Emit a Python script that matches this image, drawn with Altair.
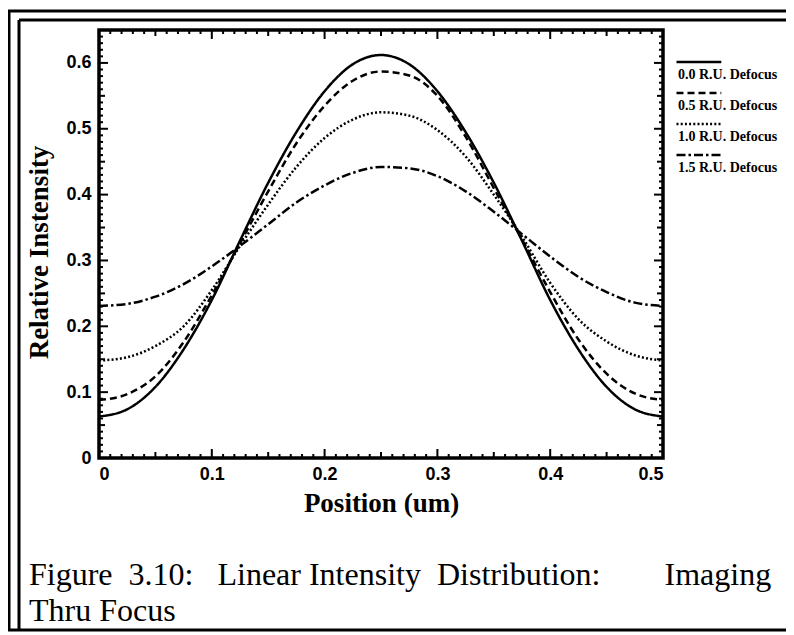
import altair as alt
import pandas as pd

# ---- data ----
POSITION = [0.000, 0.025, 0.050, 0.075, 0.100, 0.125, 0.150, 0.175, 0.200, 0.225,
            0.250, 0.275, 0.300, 0.325, 0.350, 0.375, 0.400, 0.425, 0.450, 0.475, 0.500]
DEFOCUS_00 = [0.063, 0.074, 0.108, 0.165, 0.240, 0.330, 0.418, 0.495, 0.557, 0.598,
              0.612, 0.598, 0.557, 0.495, 0.418, 0.330, 0.240, 0.165, 0.108, 0.074, 0.063]
DEFOCUS_05 = [0.088, 0.097, 0.124, 0.176, 0.247, 0.326, 0.405, 0.478, 0.535, 0.573,
              0.587, 0.581, 0.550, 0.488, 0.410, 0.332, 0.252, 0.180, 0.128, 0.098, 0.088]
DEFOCUS_10 = [0.148, 0.153, 0.170, 0.200, 0.255, 0.322, 0.385, 0.442, 0.486, 0.514,
              0.525, 0.520, 0.498, 0.458, 0.400, 0.336, 0.266, 0.211, 0.177, 0.156, 0.148]
DEFOCUS_15 = [0.231, 0.234, 0.245, 0.264, 0.291, 0.322, 0.355, 0.388, 0.414, 0.433,
              0.442, 0.440, 0.428, 0.405, 0.374, 0.340, 0.306, 0.275, 0.252, 0.236, 0.231]
SERIES = ["0.0 R.U. Defocus", "0.5 R.U. Defocus", "1.0 R.U. Defocus", "1.5 R.U. Defocus"]
X_LABEL_TICKS = [0, 0.1, 0.2, 0.3, 0.4, 0.5]
Y_LABEL_TICKS = [0, 0.1, 0.2, 0.3, 0.4, 0.5, 0.6]
X_MINOR_TICKS = [i / 100 for i in range(0, 51)]
Y_MINOR_TICKS = [i / 100 for i in range(0, 66)]
NB = "\u00a0"
CAPTION = ("Figure" + NB * 2 + "3.10:" + NB * 3 + "Linear" + NB + "Intensity" + NB * 2
           + "Distribution:" + NB * 8 + "Imaging\nThru" + NB + "Focus")

W, H = 564, 428
XMAX, YMAX = 0.5, 0.65
PX_X = W / XMAX
PX_Y = H / YMAX

rows = []
for name, vals in zip(SERIES, [DEFOCUS_00, DEFOCUS_05, DEFOCUS_10, DEFOCUS_15]):
    for p, v in zip(POSITION, vals):
        rows.append({"pos": p, "val": v, "series": name})
df = pd.DataFrame(rows)


def tick_len(v):
    k = round(v * 100)
    if k % 10 == 0:
        return 9
    if k % 5 == 0:
        return 6
    return 4


trows = []
for v in X_MINOR_TICKS:
    L = tick_len(v)
    trows.append({"pos": v, "pos2": v, "val": 0, "val2": L / PX_Y})
    trows.append({"pos": v, "pos2": v, "val": YMAX, "val2": YMAX - L / PX_Y})
for v in Y_MINOR_TICKS:
    L = tick_len(v)
    trows.append({"pos": 0, "pos2": L / PX_X, "val": v, "val2": v})
    trows.append({"pos": XMAX, "pos2": XMAX - L / PX_X, "val": v, "val2": v})
tdf = pd.DataFrame(trows)

xscale = alt.Scale(domain=[0, XMAX], nice=False, zero=False)
yscale = alt.Scale(domain=[0, YMAX], nice=False, zero=False)

XAXIS = alt.Axis(values=X_LABEL_TICKS, title="Position (um)", tickSize=0, domain=False,
                 grid=False, labelPadding=7,
                 labelExpr="datum.value == 0 ? '0' : format(datum.value, '.1f')",
                 labelFont="Liberation Sans", labelFontWeight="bold", labelFontSize=18,
                 labelColor="black", titleFont="Liberation Serif", titleFontWeight="bold",
                 titleFontSize=27, titleColor="black", titlePadding=7)
YAXIS = alt.Axis(values=Y_LABEL_TICKS, title="Relative Instensity", tickSize=0, domain=False,
                 grid=False, labelPadding=8,
                 labelExpr="datum.value == 0 ? '0' : format(datum.value, '.1f')",
                 labelFont="Liberation Sans", labelFontWeight="bold", labelFontSize=18,
                 labelColor="black", titleFont="Liberation Serif", titleFontWeight="bold",
                 titleFontSize=27, titleColor="black", titlePadding=12, titleY=222)

lines = alt.Chart(df).mark_line(color="black", strokeWidth=2.5, interpolate="monotone").encode(
    x=alt.X("pos:Q", scale=xscale, axis=XAXIS),
    y=alt.Y("val:Q", scale=yscale, axis=YAXIS),
    strokeDash=alt.StrokeDash(
        "series:N",
        scale=alt.Scale(domain=SERIES, range=[[1, 0], [7, 4], [2, 2.2], [9, 3, 2.5, 3]]),
        legend=alt.Legend(title=None, orient="none", legendX=548, legendY=22, direction="vertical",
                          symbolType="M1,-0.4H4.2", symbolSize=784, symbolStrokeWidth=2.5,
                          symbolStrokeColor="black", labelBaseline="top", labelOffset=0,
                          labelFont="Liberation Serif", labelFontWeight="bold", labelFontSize=14,
                          labelColor="black", rowPadding=1),
    ),
)

ticks = alt.Chart(tdf).mark_rule(color="black", strokeWidth=2).encode(
    x=alt.X("pos:Q", scale=xscale, axis=XAXIS),
    x2="pos2:Q",
    y=alt.Y("val:Q", scale=yscale, axis=YAXIS),
    y2="val2:Q",
)

deco = pd.DataFrame({"k": [0]})
border = alt.Chart(deco).mark_rect(fill=None, stroke="black", strokeWidth=3).encode(
    x=alt.value(-90), x2=alt.value(720), y=alt.value(-19), y2=alt.value(600)
)
border_inner = alt.Chart(deco).mark_rule(color="black", strokeWidth=3).encode(
    x=alt.value(-80), x2=alt.value(720), y=alt.value(-10)
)
border_inner_v = alt.Chart(deco).mark_rule(color="black", strokeWidth=3).encode(
    x=alt.value(-80), y=alt.value(-10), y2=alt.value(600)
)
caption = alt.Chart(deco).mark_text(
    align="left", baseline="alphabetic", font="Liberation Serif", fontSize=32, color="black",
    lineBreak="\n", lineHeight=36
).encode(x=alt.value(-70), y=alt.value(555), text=alt.value(CAPTION))

chart = alt.layer(ticks, lines, border, border_inner, border_inner_v, caption).properties(
    width=W, height=H,
    padding={"left": 91, "top": 22, "right": 123, "bottom": 174},
    autosize=alt.AutoSizeParams(type="none"),
    background="white",
).configure_view(stroke="black", strokeWidth=3.5)

chart.save("out.html", embed_options={"renderer": "svg", "actions": False})
